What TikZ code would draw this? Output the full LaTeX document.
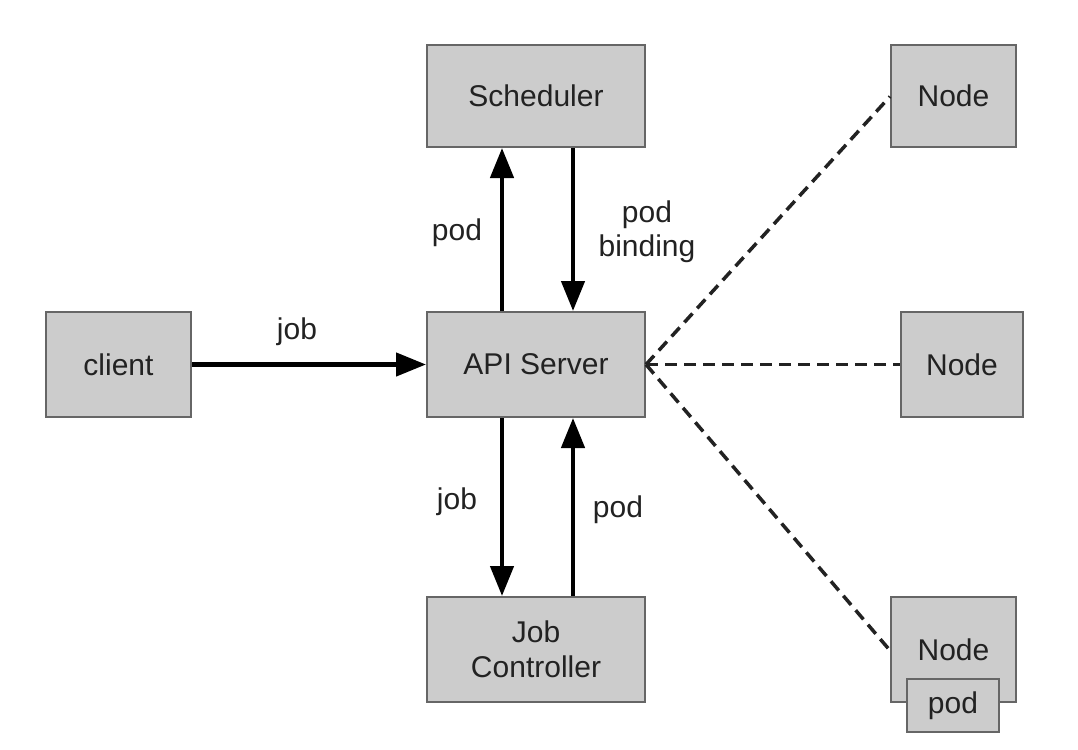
\documentclass[tikz,border=0pt]{standalone}
\usepackage{fontspec}
\setmainfont{Liberation Sans}
\usetikzlibrary{arrows.meta}
\definecolor{boxfill}{HTML}{CCCCCC}
\definecolor{boxline}{HTML}{666666}
\definecolor{txt}{HTML}{222222}
\definecolor{dashcol}{HTML}{222222}
\begin{document}
\begin{tikzpicture}[x=1pt,y=-1pt,
  box/.style={draw=boxline,fill=boxfill,line width=2pt,text=txt,inner sep=0pt,
    font=\fontsize{30}{35}\selectfont,align=center},
  lbl/.style={text=txt,font=\fontsize{30}{34}\selectfont,align=center,inner sep=0pt},
  arr/.style={line width=4.5pt,-{Triangle[length=30pt,width=23pt]},black},
  dsh/.style={line width=3.5pt,dash pattern=on 12pt off 7pt,draw=dashcol}]
\useasboundingbox (0,0) rectangle (1078,749);
\node[box,minimum width=218pt,minimum height=102pt] (sched) at (536,96) {Scheduler};
\node[box,minimum width=125pt,minimum height=102pt] (n1) at (953.5,96) {Node};
\node[box,minimum width=145pt,minimum height=105pt] (client) at (118.5,364.5) {client};
\node[box,minimum width=218pt,minimum height=105pt] (api) at (536,364.5) {API Server};
\node[box,minimum width=122pt,minimum height=105pt] (n2) at (962,364.5) {Node};
\node[box,minimum width=218pt,minimum height=105pt] (jc) at (536,649.5) {Job\\Controller};
\node[box,minimum width=125pt,minimum height=105pt] (n3) at (953.5,649.5) {Node};
\node[box,minimum width=92pt,minimum height=53pt] (pod) at (953,705.5) {pod};
% arrows
\draw[arr] (client) -- (api);
\draw[arr] ([xshift=-34pt]api.north) -- ([xshift=-34pt]sched.south);
\draw[arr] ([xshift=37pt]sched.south) -- ([xshift=37pt]api.north);
\draw[arr] ([xshift=-34pt]api.south) -- ([xshift=-34pt]jc.north);
\draw[arr] ([xshift=37pt]jc.north) -- ([xshift=37pt]api.south);
% dashed
\draw[dsh] (api.east) -- ([yshift=-0.5pt]n1.west);
\draw[dsh] (api.east) -- (n2.west);
\draw[dsh] (api.east) -- ([yshift=-1pt]n3.west);
% labels
\node[lbl] (ljob1) at (297,332) {job};
\node[lbl] (lpod1) at (457,233) {pod};
\node[lbl] (lbind) at (647,232) {pod\\binding};
\node[lbl] (ljob2) at (457,502) {job};
\node[lbl] (lpod2) at (618,510) {pod};
\end{tikzpicture}
\end{document}
